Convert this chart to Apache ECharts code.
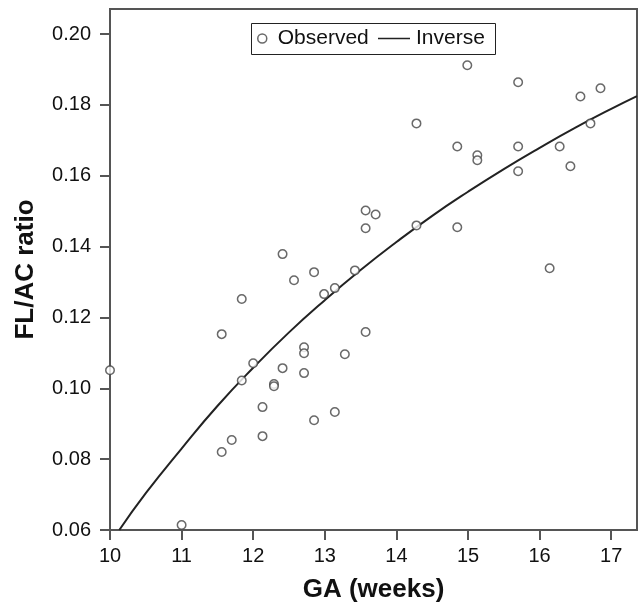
<!DOCTYPE html>
<html>
<head>
<meta charset="utf-8">
<script src="https://cdn.jsdelivr.net/npm/echarts@6/dist/echarts.min.js"></script>
<style>
html,body{margin:0;padding:0;background:#fff;}
#chart{width:639px;height:608px;}
</style>
</head>
<body>
<div id="chart"></div>
<script>
// Observed points (GA weeks, FL/AC ratio)
var obsGA = [10.00, 11.00, 11.56, 11.70, 11.56, 11.84, 11.84, 12.00, 12.13, 12.13, 12.29, 12.29, 12.41, 12.41, 12.57,
  12.71, 12.71, 12.71, 12.85, 12.85, 12.99, 13.14, 13.14, 13.28, 13.42, 13.57, 13.57, 13.57, 13.71,
  14.28, 14.28, 14.85, 14.85, 14.99, 15.13, 15.13, 15.70, 15.70, 15.70, 16.14, 16.28, 16.43, 16.57, 16.71, 16.85];
var obsRatio = [0.1051, 0.0614, 0.0820, 0.0854, 0.1153, 0.1252, 0.1022, 0.1071, 0.0947, 0.0865, 0.1012, 0.1006, 0.1057, 0.1379, 0.1305,
  0.1116, 0.1099, 0.1043, 0.1328, 0.0910, 0.1266, 0.1283, 0.0933, 0.1096, 0.1333, 0.1159, 0.1452, 0.1502, 0.1491,
  0.1460, 0.1748, 0.1683, 0.1455, 0.1912, 0.1658, 0.1644, 0.1864, 0.1683, 0.1613, 0.1339, 0.1683, 0.1627, 0.1824, 0.1748, 0.1847];

// Inverse fit curve
var fitGA =    [10.13, 10.5, 11.0, 11.5, 12.0, 12.5, 13.0, 13.5, 14.0, 14.5, 15.0, 15.5, 16.0, 16.5, 17.0, 17.36];
var fitRatio = [0.0600, 0.0704, 0.0830, 0.0950, 0.1058, 0.1158, 0.1249, 0.1334, 0.1413, 0.1487, 0.1555, 0.1619, 0.1679, 0.1736, 0.1789, 0.1825];

var xTicks = [10, 11, 12, 13, 14, 15, 16, 17];
var yTicks = [0.06, 0.08, 0.10, 0.12, 0.14, 0.16, 0.18, 0.20];

var FONT = '"Liberation Sans", Arial, sans-serif';
var AXIS = '#555';
var LINE_ICON = 'path://M0,0L0.05,0L0.05,0.05Z M0,4.2L32,4.2L32,5.8L0,5.8Z M0,10L0.05,10L0.05,9.95Z';

var chart = echarts.init(document.getElementById('chart'), null, {renderer: 'canvas'});
chart.setOption({
  animation: false,
  backgroundColor: '#fff',
  textStyle: {fontFamily: FONT},
  grid: {left: 110, right: 2, top: 9, bottom: 78, show: true, borderColor: AXIS, borderWidth: 2, backgroundColor: 'transparent'},
  graphic: [{
    type: 'rect', left: 251, top: 23, z: 10,
    shape: {width: 244, height: 31},
    style: {fill: '#fff', stroke: '#222', lineWidth: 1}
  }],
  legend: [
    {
      left: 257, top: 28, padding: 0, z: 20,
      itemWidth: 9, itemHeight: 9,
      textStyle: {fontSize: 21, color: '#111', fontFamily: FONT, padding: [0, 0, 0, 6]},
      data: [{name: 'Observed', icon: 'circle', itemStyle: {color: '#fff', borderColor: '#444', borderWidth: 1.5}}]
    },
    {
      left: 378, top: 28, padding: 0, z: 20,
      itemWidth: 32, itemHeight: 10,
      textStyle: {fontSize: 21, color: '#111', fontFamily: FONT, padding: [0, 0, 0, 1]},
      data: [{name: 'Inverse', icon: LINE_ICON, itemStyle: {color: '#222', borderWidth: 0}}]
    }
  ],
  xAxis: {
    type: 'value', min: 10, max: 17.36,
    axisLine: {show: true, onZero: false, lineStyle: {color: AXIS, width: 2}},
    axisTick: {show: true, length: 10, customValues: xTicks, lineStyle: {color: AXIS, width: 2}},
    splitLine: {show: false},
    axisLabel: {fontSize: 20, color: '#111', fontFamily: FONT, margin: 16, customValues: xTicks},
    name: 'GA (weeks)', nameLocation: 'middle', nameGap: 47,
    nameTextStyle: {fontSize: 26, fontWeight: 'bold', color: '#111', fontFamily: FONT}
  },
  yAxis: {
    type: 'value', min: 0.06, max: 0.2071,
    axisLine: {show: true, onZero: false, lineStyle: {color: AXIS, width: 2}},
    axisTick: {show: true, length: 10, customValues: yTicks, lineStyle: {color: AXIS, width: 2}},
    splitLine: {show: false},
    axisLabel: {
      fontSize: 20, color: '#111', fontFamily: FONT, margin: 19, customValues: yTicks,
      formatter: function (v) { return v.toFixed(2); }
    },
    name: 'FL/AC ratio', nameLocation: 'middle', nameGap: 71, nameRotate: 90,
    nameTextStyle: {fontSize: 26, fontWeight: 'bold', color: '#111', fontFamily: FONT}
  },
  series: [
    {
      name: 'Observed', type: 'scatter', symbol: 'circle', symbolSize: 8.5,
      itemStyle: {color: '#fff', borderColor: '#444', borderWidth: 1.5},
      data: obsGA.map(function (x, i) { return [x, obsRatio[i]]; }),
      z: 3
    },
    {
      name: 'Inverse', type: 'line', symbol: 'none', smooth: true,
      lineStyle: {color: '#222', width: 2},
      itemStyle: {color: '#222'},
      data: fitGA.map(function (x, i) { return [x, fitRatio[i]]; }),
      z: 2
    }
  ]
});
</script>
</body>
</html>
